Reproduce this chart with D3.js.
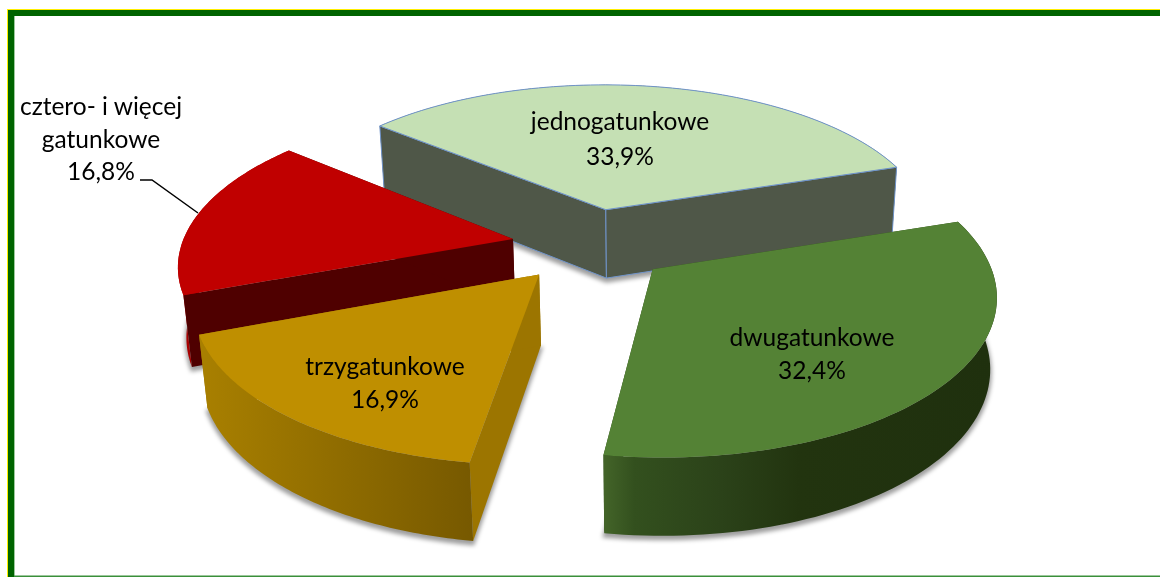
<!DOCTYPE html>
<html>
<head>
<meta charset="utf-8">
<script src="https://cdnjs.cloudflare.com/ajax/libs/d3/7.8.5/d3.min.js"></script>
<style>
  html, body { margin: 0; background: #fff; }
  text { font-family: Lato, "Open Sans", sans-serif; font-size: 24.5px; fill: #000; text-anchor: middle; }
</style>
</head>
<body>
<div id="chart"></div>
<script>
// values
var categories = ["jednogatunkowe", "dwugatunkowe", "trzygatunkowe", "cztero- i więcej gatunkowe"]
var shares = [33.9, 32.4, 16.9, 16.8]
var explode = [0.244, 0.239, 0.241, 0.240]

var topColors = ["#c5e0b4", "#548235", "#bf8f00", "#c00000"]
var edgeColors = ["#4f5748", "#2f4a1c", "#9c7500", "#4f0000"]
var wallStops = [
  [["0%", "#4f5748"], ["100%", "#4f5748"]],
  [["0%", "#446529"], ["8%", "#33501e"], ["30%", "#2b4219"], ["50%", "#22340f"], ["100%", "#1f300e"]],
  [["0%", "#a98000"], ["100%", "#775900"]],
  [["0%", "#a80000"], ["100%", "#a80000"]]
]
var drawOrder = [0, 3, 2, 1]
// back slices: the rounded outside sits behind the cut faces
var rimBehind = [true, false, false, true]

var width = 1160, height = 577

// perspective of the pie plane (radius 1 in plane units), fitted to the picture
var H = {a: 336.015, b: 68.011, c: 590.904, d: -51.666, e: 104.710, f: 245.071, g: 0.0653, h: -0.13187}
var rotation = -0.41681

function project(X, Y) {
  var w = 1 + H.g * X + H.h * Y
  return [(H.a * X + H.b * Y + H.c) / w, (H.d * X + H.e * Y + H.f) / w]
}

// thickness grows towards the viewer, verticals lean in to a far vanishing point
function lower(p) {
  var d = 60 + 0.04 * p[1]
  return [p[0] + (640 - p[0]) * 0.00026 * d, p[1] + d]
}

var pie = d3.pie().sort(null).startAngle(rotation).endAngle(rotation + 2 * Math.PI)
var slices = pie(shares)
var line = d3.line()

var svg = d3.select("#chart").append("svg")
    .attr("width", width)
    .attr("height", height)
    .style("display", "block")

var defs = svg.append("defs")
defs.append("filter").attr("id", "soft")
    .attr("x", "-10%").attr("y", "-10%").attr("width", "120%").attr("height", "130%")
  .append("feGaussianBlur").attr("stdDeviation", 2.2)

// frame
svg.append("rect").attr("x", 7).attr("y", 9).attr("width", width).attr("height", 2).attr("fill", "#ffee00")
svg.append("rect").attr("x", 7).attr("y", 9).attr("width", 2).attr("height", height).attr("fill", "#ffee00")
svg.append("rect").attr("x", 14).attr("y", 16).attr("width", 1).attr("height", height).attr("fill", "#9cc99c")
svg.append("rect").attr("x", 8).attr("y", 10).attr("width", width).attr("height", 6).attr("fill", "#006400")
svg.append("rect").attr("x", 8).attr("y", 10).attr("width", 6).attr("height", height).attr("fill", "#006400")
svg.append("rect").attr("x", 14).attr("y", 575.5).attr("width", width).attr("height", 1.5).attr("fill", "#3a8f3a")

var parts = slices.map(function(s, i) {
  var mid = (s.startAngle + s.endAngle) / 2
  var ox = explode[i] * Math.sin(mid), oy = -explode[i] * Math.cos(mid)
  var apex = project(ox, oy)
  var angle = d3.scaleLinear().domain([0, 80]).range([s.startAngle, s.endAngle])
  var rim = d3.range(81).map(function(k) {
    var t = angle(k)
    return project(ox + Math.sin(t), oy - Math.cos(t))
  })
  var rimLow = rim.map(lower)
  return {
    i: i, apex: apex, apexLow: lower(apex), rim: rim, rimLow: rimLow,
    x0: d3.min(rim, function(p) { return p[0] }),
    x1: d3.max(rim, function(p) { return p[0] })
  }
})

// soft shadow goes under everything
var shadow = svg.append("g").attr("filter", "url(#soft)").attr("transform", "translate(0,3)")
parts.forEach(function(d) {
  shadow.append("path")
    .attr("d", line(d.rimLow.concat([d.apexLow])) + "Z")
    .attr("fill", "#000")
    .attr("stroke", "#000")
    .attr("stroke-width", 3)
    .attr("opacity", 0.38)
})

drawOrder.forEach(function(i) {
  var d = parts[i]
  var grad = defs.append("linearGradient")
      .attr("id", "wall" + i)
      .attr("gradientUnits", "userSpaceOnUse")
      .attr("x1", i == 1 ? 603 : d.x0).attr("x2", i == 1 ? 996 : 472)
      .attr("y1", 0).attr("y2", 0)
  wallStops[i].forEach(function(st) {
    grad.append("stop").attr("offset", st[0]).attr("stop-color", st[1])
  })

  var g = svg.append("g")
  var outline = i == 0 ? "#6f93c9" : "none"
  var first = d.rim[0], last = d.rim[d.rim.length - 1]
  var firstLow = d.rimLow[0], lastLow = d.rimLow[d.rimLow.length - 1]

  function drawRim() {
    g.append("path")
      .attr("d", line(d.rim.concat(d.rimLow.slice().reverse())) + "Z")
      .attr("fill", "url(#wall" + i + ")")
  }
  if (rimBehind[i]) drawRim()
  // two cut faces
  ;[[first, firstLow], [last, lastLow]].forEach(function(e) {
    g.append("path")
      .attr("d", line([d.apex, e[0], e[1], d.apexLow]) + "Z")
      .attr("fill", edgeColors[i])
      .attr("stroke", outline)
      .attr("stroke-width", 1)
  })
  if (!rimBehind[i]) drawRim()
  // top
  g.append("path")
    .attr("d", line([d.apex].concat(d.rim)) + "Z")
    .attr("fill", topColors[i])
    .attr("stroke", outline)
    .attr("stroke-width", 1)
})

// labels
var pct = function(v) { return v.toFixed(1).replace(".", ",") + "%" }
var labelLines = [
  [categories[0], pct(shares[0])],
  [categories[1], pct(shares[1])],
  [categories[2], pct(shares[2])],
  ["cztero- i więcej", "gatunkowe", pct(shares[3])]
]
var labelX = [620, 812, 385, 101]
var labelY = [130, 346, 375, 115]
var labelStep = [35, 33, 33, 32.5]

labelLines.forEach(function(rows, i) {
  rows.forEach(function(r, k) {
    svg.append("text")
      .attr("x", labelX[i])
      .attr("y", labelY[i] + k * labelStep[i])
      .text(r)
  })
})

// leader line for the outside label
svg.append("path")
  .attr("d", line([[140, 180], [152, 180], [198, 213]]))
  .attr("fill", "none")
  .attr("stroke", "#000")
  .attr("stroke-width", 1.5)
</script>
</body>
</html>
